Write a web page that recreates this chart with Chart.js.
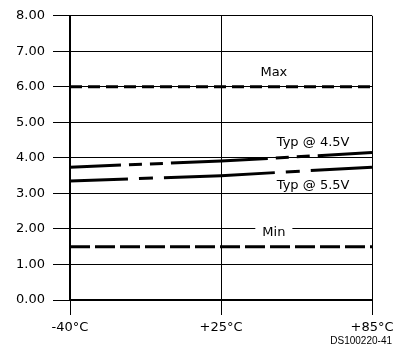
<!DOCTYPE html>
<html>
<head>
<meta charset="utf-8">
<script src="https://cdn.jsdelivr.net/npm/chart.js@4/dist/chart.umd.min.js"></script>
<style>
  body { margin: 0; background: #fff; }
  #wrap { width: 394px; height: 349px; position: relative; }
</style>
</head>
<body>
<div id="wrap"><canvas id="myChart"></canvas></div>
<script>
// temperature points along the x axis
const tempLabels = ['-40°C', '+25°C', '+85°C'];

// series values
const maxValues = [6.0, 6.0, 6.0];
const typ45Values = [3.74, 3.91, 4.15];
const typ55Values = [3.35, 3.50, 3.74];
const minValues = [1.5, 1.5, 1.5];

const yMin = 0;
const yMax = 8;

const FONT = '"DejaVu Sans", sans-serif';

// text notes drawn on the plot, placed in data coordinates
const notes = [
    { text: 'Max', x: 1.35, y: 6.41 },
    { text: 'Typ @ 4.5V', x: 1.61, y: 4.43 },
    { text: 'Typ @ 5.5V', x: 1.61, y: 3.23 },
    { text: 'Min', x: 1.35, y: 1.90 }
];

const notesPlugin = {
    id: 'notes',
    afterDatasetsDraw(chart) {
        const ctx = chart.ctx;
        const xs = chart.scales.x, ys = chart.scales.y;
        ctx.save();
        ctx.font = '13px ' + FONT;
        ctx.textAlign = 'center';
        ctx.textBaseline = 'middle';
        notes.forEach(function (n) {
            const px = xs.getPixelForValue(n.x);
            const py = ys.getPixelForValue(n.y);
            const w = ctx.measureText(n.text).width;
            ctx.fillStyle = '#fff';
            ctx.fillRect(px - w / 2 - 7, py - 7, w + 14, 14);
            ctx.fillStyle = '#000';
            ctx.fillText(n.text, px, py);
        });
        ctx.restore();
    },
    afterDraw(chart) {
        const ctx = chart.ctx;
        ctx.save();
        ctx.font = '10px "Liberation Sans", Arial, sans-serif';
        ctx.fillStyle = '#000';
        ctx.textAlign = 'right';
        ctx.textBaseline = 'middle';
        ctx.fillText('DS100220-41', 392, 341);
        ctx.restore();
    }
};

var ctx = document.getElementById('myChart');
var myChart = new Chart(ctx, {
    type: 'line',
    data: {
        labels: tempLabels,
        datasets: [
            {
                label: 'Max',
                data: maxValues,
                borderColor: '#000',
                borderWidth: 3,
                borderDash: [12, 6],
                pointRadius: 0,
                borderCapStyle: 'butt'
            },
            {
                label: 'Typ @ 4.5V',
                data: typ45Values,
                borderColor: '#000',
                borderWidth: 3,
                borderDash: [97, 8, 13, 8, 13, 8],
                borderDashOffset: 46,
                pointRadius: 0
            },
            {
                label: 'Typ @ 5.5V',
                data: typ55Values,
                borderColor: '#000',
                borderWidth: 3,
                borderDash: [111, 11, 14, 11],
                borderDashOffset: 53,
                pointRadius: 0
            },
            {
                label: 'Min',
                data: minValues,
                borderColor: '#000',
                borderWidth: 3,
                borderDash: [20, 5],
                pointRadius: 0
            }
        ]
    },
    options: {
        responsive: true,
        maintainAspectRatio: false,
        animation: false,
        layout: {
            autoPadding: false,
            padding: { top: 13, right: 22, left: 0, bottom: 0 }
        },
        plugins: {
            legend: { display: false },
            tooltip: { enabled: false }
        },
        scales: {
            x: {
                offset: false,
                afterFit: function (s) {
                    s.height = 49;
                    s.paddingLeft = 0;
                    s.paddingRight = 0;
                },
                grid: {
                    color: '#000',
                    lineWidth: 1,
                    tickLength: 15,
                    offset: false
                },
                border: { color: '#000', width: 2 },
                ticks: {
                    color: '#000',
                    font: { family: FONT, size: 13 },
                    padding: 5,
                    maxRotation: 0,
                    autoSkip: false
                }
            },
            y: {
                min: yMin,
                max: yMax,
                afterFit: function (s) { s.width = 70; },
                grid: {
                    color: '#000',
                    lineWidth: 1,
                    tickLength: 17
                },
                border: { color: '#000', width: 2 },
                ticks: {
                    stepSize: 1,
                    color: '#000',
                    font: { family: FONT, size: 13 },
                    padding: 8,
                    callback: function (v) { return v.toFixed(2); }
                }
            }
        }
    },
    plugins: [notesPlugin]
});
</script>
</body>
</html>
